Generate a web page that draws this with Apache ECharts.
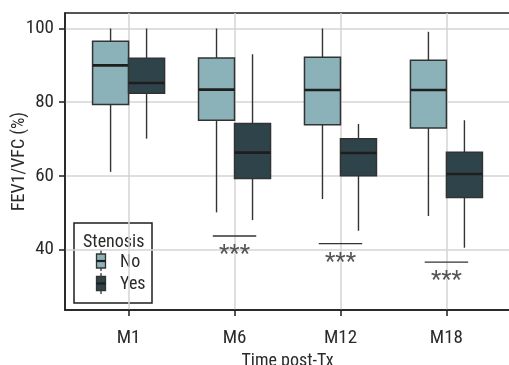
<!DOCTYPE html>
<html>
<head>
<meta charset="utf-8">
<script src="https://cdn.jsdelivr.net/npm/echarts@6/dist/echarts.min.js"></script>
<style>
html,body{margin:0;padding:0;background:#fff;}
#c{width:509px;height:365px;}
</style>
</head>
<body>
<div id="c"></div>
<script>
// ---- data ----
const categories = ['M1', 'M6', 'M12', 'M18'];
// [min, Q1, median, Q3, max]
const stenosisNo = [
  [61.1, 79.4, 90.0, 96.5, 100],
  [50.1, 75.1, 83.4, 92.0, 100],
  [53.7, 73.9, 83.3, 92.2, 100],
  [49.1, 73.0, 83.3, 91.4, 99.1]
];
const stenosisYes = [
  [70.1, 82.4, 85.2, 91.9, 100],
  [48.0, 59.3, 66.3, 74.2, 93.0],
  [45.1, 60.0, 66.2, 70.1, 74.1],
  [40.5, 54.1, 60.5, 66.4, 75.1]
];
const sigLevels = [null, 43.7, 41.6, 36.6];
const sigLabels = ['', '***', '***', '***'];
const yTicks = [40, 60, 80, 100];
const seriesNames = ['No', 'Yes'];

// ---- styling ----
const FONT = "'Roboto Condensed', 'DejaVu Sans Condensed', sans-serif";
const colNo = '#8ab2b8';
const colYes = '#2f444a';
const boxW = 36;

const chart = echarts.init(document.getElementById('c'), null, {renderer: 'canvas'});

function boxData(stats) {
  return stats.map((s, i) => [i + 1].concat(s));
}

function makeBoxRender(side) {
  return function (params, api) {
    const x = api.value(0);
    const cx = api.coord([x, 0])[0];
    const left = side < 0 ? cx - boxW : cx;
    const mid = left + boxW / 2;
    const yMin = api.coord([x, api.value(1)])[1];
    const yQ1 = api.coord([x, api.value(2)])[1];
    const yMed = api.coord([x, api.value(3)])[1];
    const yQ3 = api.coord([x, api.value(4)])[1];
    const yMax = api.coord([x, api.value(5)])[1];
    const fill = side < 0 ? colNo : colYes;
    return {
      type: 'group',
      children: [
        {type: 'line', shape: {x1: mid, y1: yMax, x2: mid, y2: yMin},
          style: {stroke: '#333', lineWidth: 1.4}},
        {type: 'rect', shape: {x: left, y: yQ3, width: boxW, height: yQ1 - yQ3},
          style: {fill: fill, stroke: '#333', lineWidth: 1.5}},
        {type: 'line', shape: {x1: left, y1: yMed, x2: left + boxW, y2: yMed},
          style: {stroke: '#1e1e1e', lineWidth: 2.6}}
      ]
    };
  };
}

const sigData = [];
sigLevels.forEach((v, i) => { if (v !== null) sigData.push([i + 1, v, sigLabels[i]]); });

const option = {
  animation: false,
  grid: {left: 65, top: 13, width: 445, bottom: 55, show: true, outerBoundsMode: 'none', containLabel: false,
    borderColor: '#1e1e1e', borderWidth: 1.5, backgroundColor: '#fff'},
  xAxis: {
    type: 'value', min: 0.4, max: 4.6,
    name: 'Time post-Tx', nameLocation: 'middle', nameGap: 41,
    nameTextStyle: {fontFamily: FONT, fontSize: 18, color: '#2a2a2a'},
    axisLine: {show: true, onZero: false, lineStyle: {color: '#1e1e1e', width: 1.5}},
    axisTick: {show: true, customValues: [1, 2, 3, 4], length: 6, lineStyle: {color: '#1e1e1e', width: 1.5}},
    axisLabel: {customValues: [1, 2, 3, 4], margin: 19, fontFamily: FONT, fontSize: 19, color: '#2a2a2a',
      formatter: v => categories[Math.round(v) - 1] || ''},
    splitLine: {show: true, lineStyle: {color: '#d4d4d4', width: 1.5}}
  },
  yAxis: {
    type: 'value', min: 23.6, max: 104.2,
    name: 'FEV1/VFC (%)', nameLocation: 'middle', nameGap: 37, nameMoveOverlap: false,
    nameTextStyle: {fontFamily: FONT, fontSize: 18, color: '#2a2a2a'},
    axisLine: {show: true, lineStyle: {color: '#1e1e1e', width: 1.5}},
    axisTick: {show: true, customValues: yTicks, length: 6, lineStyle: {color: '#1e1e1e', width: 1.5}},
    axisLabel: {customValues: yTicks, margin: 11, fontFamily: FONT, fontSize: 19, color: '#2a2a2a'},
    splitLine: {show: true, lineStyle: {color: '#d4d4d4', width: 1.5}}
  },
  series: [
    {name: seriesNames[0], type: 'custom', renderItem: makeBoxRender(-1),
      encode: {x: 0, y: [1, 2, 3, 4, 5]}, data: boxData(stenosisNo), z: 3},
    {name: seriesNames[1], type: 'custom', renderItem: makeBoxRender(1),
      encode: {x: 0, y: [1, 2, 3, 4, 5]}, data: boxData(stenosisYes), z: 3},
    {name: 'sig', type: 'custom', z: 4,
      encode: {x: 0, y: 1},
      data: sigData,
      renderItem: function (params, api) {
        const x = api.value(0);
        const p1 = api.coord([x - 0.205, api.value(1)]);
        const p2 = api.coord([x + 0.205, api.value(1)]);
        return {
          type: 'group',
          children: [
            {type: 'line', shape: {x1: p1[0], y1: p1[1], x2: p2[0], y2: p2[1]},
              style: {stroke: '#333', lineWidth: 1.4}},
            {type: 'text', x: (p1[0] + p2[0]) / 2, y: p1[1] + 7,
              style: {text: sigData[params.dataIndex][2], fontFamily: FONT, fontSize: 24,
                fill: '#555', align: 'center', verticalAlign: 'top'}}
          ]
        };
      }
    }
  ],
  graphic: [
    {type: 'group', x: 74, y: 223, z: 10, children: [
      {type: 'rect', shape: {x: 0, y: 0, width: 78, height: 80},
        style: {fill: '#fff', stroke: '#1e1e1e', lineWidth: 1.5}},
      {type: 'text', x: 9, y: 19, style: {text: 'Stenosis', fontFamily: FONT, fontSize: 18,
        fill: '#2a2a2a', verticalAlign: 'middle'}},
      // No key
      {type: 'line', shape: {x1: 27, y1: 27, x2: 27, y2: 48}, style: {stroke: '#333', lineWidth: 1.3}},
      {type: 'rect', shape: {x: 22.5, y: 31, width: 9, height: 14}, style: {fill: colNo, stroke: '#333', lineWidth: 1.3}},
      {type: 'line', shape: {x1: 22.5, y1: 38, x2: 31.5, y2: 38}, style: {stroke: '#1e1e1e', lineWidth: 2.2}},
      {type: 'text', x: 46, y: 39, style: {text: seriesNames[0], fontFamily: FONT, fontSize: 18,
        fill: '#2a2a2a', verticalAlign: 'middle'}},
      // Yes key
      {type: 'line', shape: {x1: 27, y1: 50, x2: 27, y2: 71}, style: {stroke: '#333', lineWidth: 1.3}},
      {type: 'rect', shape: {x: 22.5, y: 53.5, width: 9, height: 14}, style: {fill: colYes, stroke: '#333', lineWidth: 1.3}},
      {type: 'line', shape: {x1: 22.5, y1: 60.5, x2: 31.5, y2: 60.5}, style: {stroke: '#1e1e1e', lineWidth: 2.2}},
      {type: 'text', x: 46, y: 61, style: {text: seriesNames[1], fontFamily: FONT, fontSize: 18,
        fill: '#2a2a2a', verticalAlign: 'middle'}}
    ]}
  ]
};
chart.setOption(option);
</script>
</body>
</html>
